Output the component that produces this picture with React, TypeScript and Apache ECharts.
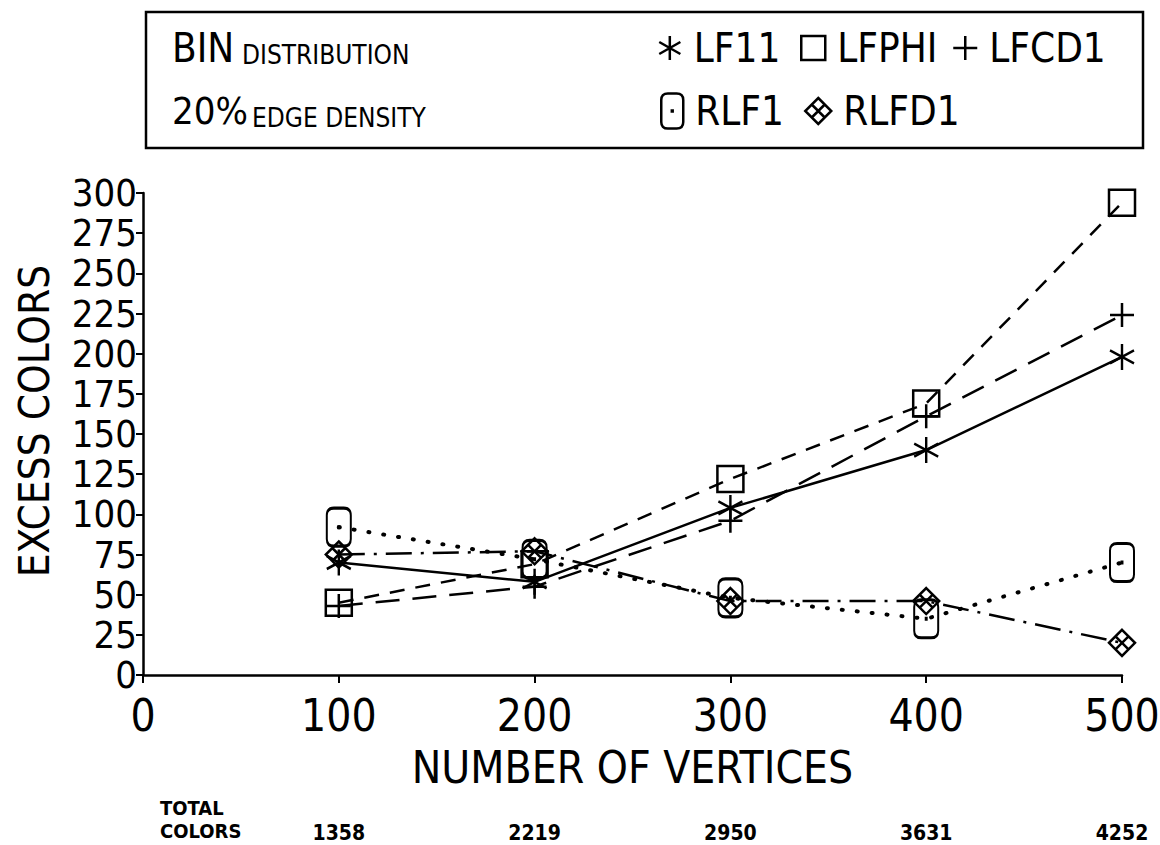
import React, { useEffect, useRef } from "react";
import * as echarts from "echarts";

// ---- data ----
const vertices = [100, 200, 300, 400, 500];
const lf11 = [70, 58, 104, 140, 198];
const lfphi = [45, 69, 122, 169, 294];
const lfcd1 = [43, 55, 96, 161, 224];
const rlf1 = [92, 72, 48, 35, 70];
const rlfd1 = [75, 77, 46, 46, 20];
const totalColors = [1358, 2219, 2950, 3631, 4252];
const seriesNames = ["LF11", "LFPHI", "LFCD1", "RLF1", "RLFD1"];
const headerLines = [["BIN", "DISTRIBUTION"], ["20%", "EDGE DENSITY"]];
const totalLabel = ["TOTAL", "COLORS"];

const FONT = "'Liberation Sans Narrow', 'DejaVu Sans Condensed', Roboto, sans-serif";

const STAR = "path://M50,0L50,100M6,25L94,75M94,25L6,75";
const SQUARE = "path://M0,0L100,0L100,100L0,100Z";
const PLUS = "path://M50,0L50,100M0,50L100,50";
const OVAL =
  "path://M30,0L70,0C90,0 100,12 100,30L100,130C100,148 90,160 70,160L30,160C10,160 0,148 0,130L0,30C0,12 10,0 30,0ZM48,78L52,78L52,82L48,82Z";
const DIAMOND = "path://M50,0L100,50L50,100L0,50ZM25,25L75,75M75,25L25,75";

const pairs = (ys: number[]) => vertices.map((v, i) => [v, ys[i]]);

function mkSeries(name: string, ys: number[], symbol: string, size: number[], dash: any, extra: any = {}) {
  return {
    type: "line",
    name,
    data: pairs(ys),
    symbol,
    symbolSize: size,
    showAllSymbol: true,
    itemStyle: { color: "rgba(0,0,0,0)", borderColor: "#000", borderWidth: 2.5 },
    lineStyle: { color: "#000", width: 2.5, type: dash, ...extra },
    emphasis: { disabled: true },
    silent: true,
  };
}

function legendItem(name: string, icon: string, left: number, top: number, w: number, h: number) {
  return {
    data: [{ name, icon }],
    left,
    top,
    padding: 0,
    itemWidth: w,
    itemHeight: h,
    selectedMode: false,
    itemStyle: { color: "rgba(0,0,0,0)", borderColor: "#000", borderWidth: 2.5 },
    textStyle: { fontSize: 40, color: "#000", fontFamily: FONT, padding: [0, 0, 0, 7] },
  };
}

export default function App() {
  const ref = useRef<HTMLDivElement>(null);
  useEffect(() => {
    if (!ref.current) return;
    const chart = echarts.init(ref.current, undefined, { renderer: "svg" });
    const option: any = {
      animation: false,
      backgroundColor: "#fff",
      grid: { left: 143, top: 193, width: 979, height: 482, containLabel: false, outerBoundsMode: "none" },
      legend: [
        legendItem(seriesNames[0], STAR, 658, 28, 24, 24),
        legendItem(seriesNames[1], SQUARE, 800, 28, 24, 24),
        legendItem(seriesNames[2], PLUS, 952, 28, 24, 24),
        legendItem(seriesNames[3], OVAL, 660, 91, 22, 36),
        legendItem(seriesNames[4], DIAMOND, 804, 91, 26, 26),
      ],
      xAxis: [
        {
          type: "value",
          min: 0,
          max: 500,
          interval: 100,
          axisLine: { show: true, lineStyle: { color: "#000", width: 2.5 } },
          axisTick: { show: true, length: 8, lineStyle: { color: "#000", width: 2 } },
          axisLabel: { color: "#000", fontSize: 44, fontFamily: FONT, margin: 18 },
          splitLine: { show: false },
          name: "NUMBER OF VERTICES",
          nameLocation: "middle",
          nameGap: 70,
          nameTextStyle: { color: "#000", fontSize: 44, fontFamily: FONT },
        },
        {
          type: "value",
          min: 0,
          max: 500,
          interval: 100,
          position: "bottom",
          offset: 147,
          axisLine: { show: false },
          axisTick: { show: false },
          splitLine: { show: false },
          axisLabel: {
            color: "#000",
            fontSize: 21,
            fontWeight: "bold",
            fontFamily: FONT,
            margin: 0,
            formatter: (v: number) => {
              const i = vertices.indexOf(v);
              return i >= 0 ? String(totalColors[i]) : "";
            },
          },
        },
      ],
      yAxis: {
        type: "value",
        min: 0,
        max: 300,
        interval: 25,
        axisLine: { show: true, lineStyle: { color: "#000", width: 2.5 } },
        axisTick: { show: true, length: 7, lineStyle: { color: "#000", width: 2 } },
        axisLabel: { color: "#000", fontSize: 38, fontFamily: FONT, margin: 6, showMinLabel: true, showMaxLabel: true },
        splitLine: { show: false },
        name: "EXCESS COLORS",
        nameLocation: "middle",
        nameRotate: 90,
        nameGap: 88,
        nameTextStyle: { color: "#000", fontSize: 42, fontFamily: FONT, padding: [0, 0, 0, 26] },
      },
      graphic: [
        {
          type: "rect",
          shape: { x: 146, y: 12, width: 997, height: 136 },
          style: { fill: "none", stroke: "#000", lineWidth: 2.5 },
          silent: true,
        },
        { type: "text", style: { x: 172, y: 48, text: headerLines[0][0], fontSize: 40, fontFamily: FONT, fill: "#000", textVerticalAlign: "middle" } },
        { type: "text", style: { x: 242, y: 55, text: headerLines[0][1], fontSize: 26, fontFamily: FONT, fill: "#000", textVerticalAlign: "middle" } },
        { type: "text", style: { x: 172, y: 111, text: headerLines[1][0], fontSize: 38, fontFamily: FONT, fill: "#000", textVerticalAlign: "middle" } },
        { type: "text", style: { x: 252, y: 118, text: headerLines[1][1], fontSize: 26, fontFamily: FONT, fill: "#000", textVerticalAlign: "middle" } },
        { type: "text", style: { x: 160, y: 808, text: totalLabel[0], fontSize: 20, fontWeight: "bold", fontFamily: FONT, fill: "#000", textVerticalAlign: "middle" } },
        { type: "text", style: { x: 160, y: 831, text: totalLabel[1], fontSize: 20, fontWeight: "bold", fontFamily: FONT, fill: "#000", textVerticalAlign: "middle" } },
      ],
      series: [
        mkSeries(seriesNames[0], lf11, STAR, [24, 26], "solid"),
        mkSeries(seriesNames[1], lfphi, SQUARE, [26, 26], [15, 11]),
        mkSeries(seriesNames[2], lfcd1, PLUS, [24, 24], [24, 13]),
        mkSeries(seriesNames[3], rlf1, OVAL, [24, 38], [1, 14], { cap: "round", width: 4 }),
        mkSeries(seriesNames[4], rlfd1, DIAMOND, [26, 26], [26, 9, 3, 9]),
      ],
    };
    chart.setOption(option);
    return () => chart.dispose();
  }, []);
  return (
    <div
      ref={ref}
      style={{ position: "fixed", left: 0, top: 0, width: 1160, height: 845, background: "#fff" }}
    />
  );
}
